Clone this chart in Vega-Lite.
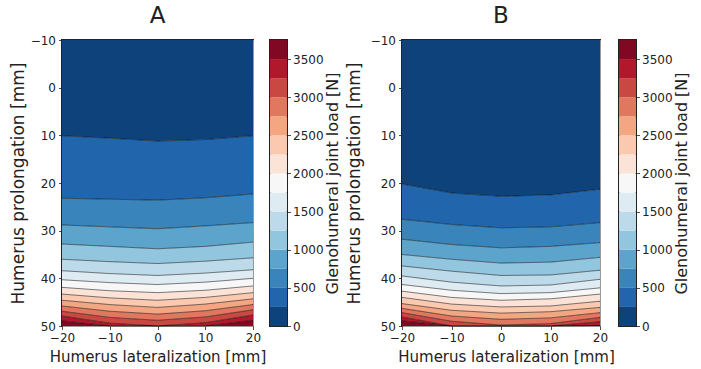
{
  "$schema": "https://vega.github.io/schema/vega-lite/v6.json",
  "padding": {"left": 8, "top": 4, "right": 5, "bottom": 3},
  "background": "white",
  "datasets": {
    "contours": [
      {"p":"A","l":0,"x":-20,"y":-10},{"p":"A","l":0,"x":-10,"y":-10},{"p":"A","l":0,"x":0,"y":-10},{"p":"A","l":0,"x":10,"y":-10},{"p":"A","l":0,"x":20,"y":-10},
      {"p":"A","l":250,"x":-20,"y":10.1},{"p":"A","l":250,"x":-10,"y":10.6},{"p":"A","l":250,"x":0,"y":11.2},{"p":"A","l":250,"x":10,"y":10.9},{"p":"A","l":250,"x":20,"y":10.1},
      {"p":"A","l":500,"x":-20,"y":23.2},{"p":"A","l":500,"x":-10,"y":23.4},{"p":"A","l":500,"x":0,"y":23.6},{"p":"A","l":500,"x":10,"y":23.1},{"p":"A","l":500,"x":20,"y":22.3},
      {"p":"A","l":750,"x":-20,"y":28.8},{"p":"A","l":750,"x":-10,"y":29.2},{"p":"A","l":750,"x":0,"y":29.6},{"p":"A","l":750,"x":10,"y":29.0},{"p":"A","l":750,"x":20,"y":28.3},
      {"p":"A","l":1000,"x":-20,"y":32.8},{"p":"A","l":1000,"x":-10,"y":33.3},{"p":"A","l":1000,"x":0,"y":33.8},{"p":"A","l":1000,"x":10,"y":33.3},{"p":"A","l":1000,"x":20,"y":32.4},
      {"p":"A","l":1250,"x":-20,"y":36.0},{"p":"A","l":1250,"x":-10,"y":36.5},{"p":"A","l":1250,"x":0,"y":36.9},{"p":"A","l":1250,"x":10,"y":36.4},{"p":"A","l":1250,"x":20,"y":35.7},
      {"p":"A","l":1500,"x":-20,"y":38.4},{"p":"A","l":1500,"x":-10,"y":39.0},{"p":"A","l":1500,"x":0,"y":39.4},{"p":"A","l":1500,"x":10,"y":38.9},{"p":"A","l":1500,"x":20,"y":38.2},
      {"p":"A","l":1750,"x":-20,"y":40.3},{"p":"A","l":1750,"x":-10,"y":40.9},{"p":"A","l":1750,"x":0,"y":41.3},{"p":"A","l":1750,"x":10,"y":40.8},{"p":"A","l":1750,"x":20,"y":40.0},
      {"p":"A","l":2000,"x":-20,"y":41.9},{"p":"A","l":2000,"x":-10,"y":42.6},{"p":"A","l":2000,"x":0,"y":43.0},{"p":"A","l":2000,"x":10,"y":42.5},{"p":"A","l":2000,"x":20,"y":41.6},
      {"p":"A","l":2250,"x":-20,"y":43.3},{"p":"A","l":2250,"x":-10,"y":44.1},{"p":"A","l":2250,"x":0,"y":44.6},{"p":"A","l":2250,"x":10,"y":44.0},{"p":"A","l":2250,"x":20,"y":43.0},
      {"p":"A","l":2500,"x":-20,"y":44.6},{"p":"A","l":2500,"x":-10,"y":45.5},{"p":"A","l":2500,"x":0,"y":46.1},{"p":"A","l":2500,"x":10,"y":45.4},{"p":"A","l":2500,"x":20,"y":44.3},
      {"p":"A","l":2750,"x":-20,"y":45.8},{"p":"A","l":2750,"x":-10,"y":46.9},{"p":"A","l":2750,"x":0,"y":47.5},{"p":"A","l":2750,"x":10,"y":46.8},{"p":"A","l":2750,"x":20,"y":45.5},
      {"p":"A","l":3000,"x":-20,"y":46.9},{"p":"A","l":3000,"x":-10,"y":48.2},{"p":"A","l":3000,"x":0,"y":48.8},{"p":"A","l":3000,"x":10,"y":48.1},{"p":"A","l":3000,"x":20,"y":46.6},
      {"p":"A","l":3250,"x":-20,"y":47.9},{"p":"A","l":3250,"x":-10,"y":49.4},{"p":"A","l":3250,"x":0,"y":50},{"p":"A","l":3250,"x":10,"y":49.3},{"p":"A","l":3250,"x":20,"y":47.7},
      {"p":"A","l":3500,"x":-20,"y":48.9},{"p":"A","l":3500,"x":-10,"y":50},{"p":"A","l":3500,"x":0,"y":50},{"p":"A","l":3500,"x":10,"y":50},{"p":"A","l":3500,"x":20,"y":48.8},
      {"p":"A","l":3750,"x":-20,"y":50},{"p":"A","l":3750,"x":-10,"y":50},{"p":"A","l":3750,"x":0,"y":50},{"p":"A","l":3750,"x":10,"y":50},{"p":"A","l":3750,"x":20,"y":50},
      {"p":"B","l":0,"x":-20,"y":-10},{"p":"B","l":0,"x":-10,"y":-10},{"p":"B","l":0,"x":0,"y":-10},{"p":"B","l":0,"x":10,"y":-10},{"p":"B","l":0,"x":20,"y":-10},
      {"p":"B","l":250,"x":-20,"y":20.2},{"p":"B","l":250,"x":-10,"y":22.1},{"p":"B","l":250,"x":0,"y":22.8},{"p":"B","l":250,"x":10,"y":22.5},{"p":"B","l":250,"x":20,"y":21.3},
      {"p":"B","l":500,"x":-20,"y":27.6},{"p":"B","l":500,"x":-10,"y":28.7},{"p":"B","l":500,"x":0,"y":29.4},{"p":"B","l":500,"x":10,"y":29.2},{"p":"B","l":500,"x":20,"y":28.3},
      {"p":"B","l":750,"x":-20,"y":31.8},{"p":"B","l":750,"x":-10,"y":32.9},{"p":"B","l":750,"x":0,"y":33.6},{"p":"B","l":750,"x":10,"y":33.3},{"p":"B","l":750,"x":20,"y":32.5},
      {"p":"B","l":1000,"x":-20,"y":35.0},{"p":"B","l":1000,"x":-10,"y":36.0},{"p":"B","l":1000,"x":0,"y":36.8},{"p":"B","l":1000,"x":10,"y":36.6},{"p":"B","l":1000,"x":20,"y":35.6},
      {"p":"B","l":1250,"x":-20,"y":37.4},{"p":"B","l":1250,"x":-10,"y":38.5},{"p":"B","l":1250,"x":0,"y":39.4},{"p":"B","l":1250,"x":10,"y":39.3},{"p":"B","l":1250,"x":20,"y":38.3},
      {"p":"B","l":1500,"x":-20,"y":39.5},{"p":"B","l":1500,"x":-10,"y":40.8},{"p":"B","l":1500,"x":0,"y":41.6},{"p":"B","l":1500,"x":10,"y":41.4},{"p":"B","l":1500,"x":20,"y":40.2},
      {"p":"B","l":1750,"x":-20,"y":41.3},{"p":"B","l":1750,"x":-10,"y":42.5},{"p":"B","l":1750,"x":0,"y":43.2},{"p":"B","l":1750,"x":10,"y":43.0},{"p":"B","l":1750,"x":20,"y":42.0},
      {"p":"B","l":2000,"x":-20,"y":42.7},{"p":"B","l":2000,"x":-10,"y":44.0},{"p":"B","l":2000,"x":0,"y":44.6},{"p":"B","l":2000,"x":10,"y":44.3},{"p":"B","l":2000,"x":20,"y":43.3},
      {"p":"B","l":2250,"x":-20,"y":44.0},{"p":"B","l":2250,"x":-10,"y":45.4},{"p":"B","l":2250,"x":0,"y":46.0},{"p":"B","l":2250,"x":10,"y":45.8},{"p":"B","l":2250,"x":20,"y":44.8},
      {"p":"B","l":2500,"x":-20,"y":45.3},{"p":"B","l":2500,"x":-10,"y":46.7},{"p":"B","l":2500,"x":0,"y":47.3},{"p":"B","l":2500,"x":10,"y":47.0},{"p":"B","l":2500,"x":20,"y":46.1},
      {"p":"B","l":2750,"x":-20,"y":46.3},{"p":"B","l":2750,"x":-10,"y":47.9},{"p":"B","l":2750,"x":0,"y":48.6},{"p":"B","l":2750,"x":10,"y":48.3},{"p":"B","l":2750,"x":20,"y":47.2},
      {"p":"B","l":3000,"x":-20,"y":47.2},{"p":"B","l":3000,"x":-10,"y":49.0},{"p":"B","l":3000,"x":0,"y":49.8},{"p":"B","l":3000,"x":10,"y":49.5},{"p":"B","l":3000,"x":20,"y":48.2},
      {"p":"B","l":3250,"x":-20,"y":48.1},{"p":"B","l":3250,"x":-10,"y":50},{"p":"B","l":3250,"x":0,"y":50},{"p":"B","l":3250,"x":10,"y":50},{"p":"B","l":3250,"x":20,"y":49.1},
      {"p":"B","l":3500,"x":-20,"y":48.9},{"p":"B","l":3500,"x":-10,"y":50},{"p":"B","l":3500,"x":0,"y":50},{"p":"B","l":3500,"x":10,"y":50},{"p":"B","l":3500,"x":20,"y":49.9},
      {"p":"B","l":3750,"x":-20,"y":50},{"p":"B","l":3750,"x":-10,"y":50},{"p":"B","l":3750,"x":0,"y":50},{"p":"B","l":3750,"x":10,"y":50},{"p":"B","l":3750,"x":20,"y":50}
    ]
  },
  "spacing": 2,
  "hconcat": [
    {
      "width": 191, "height": 286,
      "title": {"text": "A", "fontSize": 23, "fontWeight": "normal", "offset": 6},
      "data": {"name": "contours"},
      "transform": [{"filter": "datum.p == 'A'"}],
      "encoding": {
        "x": {"field": "x", "type": "quantitative", "scale": {"domain": [-20, 20], "nice": false}, "axis": {"values": [-20, -10, 0, 10, 20], "grid": true, "labelFlush": false, "title": "Humerus lateralization [mm]", "titlePadding": 6}},
        "y": {"field": "y", "type": "quantitative", "scale": {"domain": [-10, 50], "nice": false, "zero": false, "reverse": true}, "axis": {"values": [-10, 0, 10, 20, 30, 40, 50], "grid": true, "labelFlush": false, "title": "Humerus prolongation [mm]", "titleFontSize": 17, "titlePadding": 3}}
      },
      "layer": [
        {
          "transform": [
            {"window": [{"op": "lead", "field": "y", "as": "y2"}], "groupby": ["x"], "sort": [{"field": "l"}]},
            {"filter": "datum.y2 != null"}
          ],
          "mark": {"type": "area", "strokeWidth": 0},
          "encoding": {
            "y2": {"field": "y2"},
            "color": {"field": "l", "type": "ordinal", "legend": null}
          }
        },
        {
          "transform": [{"filter": "datum.l >= 250 && datum.l <= 3500"}],
          "mark": {"type": "line", "color": "black", "strokeWidth": 0.6, "opacity": 0.85},
          "encoding": {"detail": {"field": "l"}}
        }
      ]
    },
    {
      "width": 17, "height": 286,
      "data": {"name": "contours"},
      "transform": [
        {"filter": "datum.p == 'A' && datum.x == -20"},
        {"window": [{"op": "lead", "field": "l", "as": "l2"}], "sort": [{"field": "l"}]},
        {"filter": "datum.l2 != null"}
      ],
      "mark": {"type": "rect", "strokeWidth": 0},
      "encoding": {
        "x": {"datum": 0, "type": "quantitative", "scale": {"domain": [0, 1]}, "axis": null},
        "x2": {"datum": 1},
        "y": {"field": "l", "type": "quantitative", "scale": {"domain": [0, 3750], "nice": false}, "axis": {"orient": "right", "values": [0, 500, 1000, 1500, 2000, 2500, 3000, 3500], "format": "d", "labelFlush": false, "labelPadding": 2, "title": "Glenohumeral joint load [N]", "titleAngle": 270, "titleBaseline": "top", "titleFontSize": 16, "titlePadding": 1}},
        "y2": {"field": "l2"},
        "color": {"field": "l", "type": "ordinal", "legend": null}
      }
    },
    {
      "width": 198, "height": 286,
      "title": {"text": "B", "fontSize": 23, "fontWeight": "normal", "offset": 6},
      "data": {"name": "contours"},
      "transform": [{"filter": "datum.p == 'B'"}],
      "encoding": {
        "x": {"field": "x", "type": "quantitative", "scale": {"domain": [-20, 20], "nice": false}, "axis": {"values": [-20, -10, 0, 10, 20], "grid": true, "labelFlush": false, "title": "Humerus lateralization [mm]", "titlePadding": 6, "titleX": 104}},
        "y": {"field": "y", "type": "quantitative", "scale": {"domain": [-10, 50], "nice": false, "zero": false, "reverse": true}, "axis": {"values": [-10, 0, 10, 20, 30, 40, 50], "grid": true, "labelFlush": false, "title": "Humerus prolongation [mm]", "titleFontSize": 17, "titlePadding": 7}}
      },
      "layer": [
        {
          "transform": [
            {"window": [{"op": "lead", "field": "y", "as": "y2"}], "groupby": ["x"], "sort": [{"field": "l"}]},
            {"filter": "datum.y2 != null"}
          ],
          "mark": {"type": "area", "strokeWidth": 0},
          "encoding": {
            "y2": {"field": "y2"},
            "color": {"field": "l", "type": "ordinal", "legend": null}
          }
        },
        {
          "transform": [{"filter": "datum.l >= 250 && datum.l <= 3500"}],
          "mark": {"type": "line", "color": "black", "strokeWidth": 0.6, "opacity": 0.85},
          "encoding": {"detail": {"field": "l"}}
        }
      ]
    },
    {
      "width": 17, "height": 286,
      "data": {"name": "contours"},
      "transform": [
        {"filter": "datum.p == 'B' && datum.x == -20"},
        {"window": [{"op": "lead", "field": "l", "as": "l2"}], "sort": [{"field": "l"}]},
        {"filter": "datum.l2 != null"}
      ],
      "mark": {"type": "rect", "strokeWidth": 0},
      "encoding": {
        "x": {"datum": 0, "type": "quantitative", "scale": {"domain": [0, 1]}, "axis": null},
        "x2": {"datum": 1},
        "y": {"field": "l", "type": "quantitative", "scale": {"domain": [0, 3750], "nice": false}, "axis": {"orient": "right", "values": [0, 500, 1000, 1500, 2000, 2500, 3000, 3500], "format": "d", "labelFlush": false, "labelPadding": 2, "title": "Glenohumeral joint load [N]", "titleAngle": 270, "titleBaseline": "top", "titleFontSize": 16, "titlePadding": 1}},
        "y2": {"field": "l2"},
        "color": {"field": "l", "type": "ordinal", "legend": null}
      }
    }
  ],
  "resolve": {"scale": {"color": "shared"}},
  "config": {
    "font": "DejaVu Sans",
    "view": {"stroke": "#222222", "strokeWidth": 2},
    "title": {"font": "DejaVu Sans", "color": "#222222"},
    "range": {"ordinal": ["#0e427a","#2166ac","#3884bb","#5da4cc","#92c5de","#bcdaea","#deebf2","#f7f7f7","#fbe4d7","#fac9b0","#f4a582","#e0775f","#ca4842","#b2182b","#800823"]},
    "axis": {
      "labelFont": "DejaVu Sans", "titleFont": "DejaVu Sans",
      "labelFontSize": 12, "titleFontSize": 15, "titleFontWeight": "normal",
      "labelColor": "#222222", "titleColor": "#222222",
      "tickColor": "#222222", "tickSize": 3.5, "tickWidth": 0.8,
      "domain": false, "grid": false,
      "gridColor": "#b8b8b8", "gridWidth": 0.8, "gridOpacity": 1,
      "zindex": 1, "labelPadding": 3, "titlePadding": 5
    }
  }
}
